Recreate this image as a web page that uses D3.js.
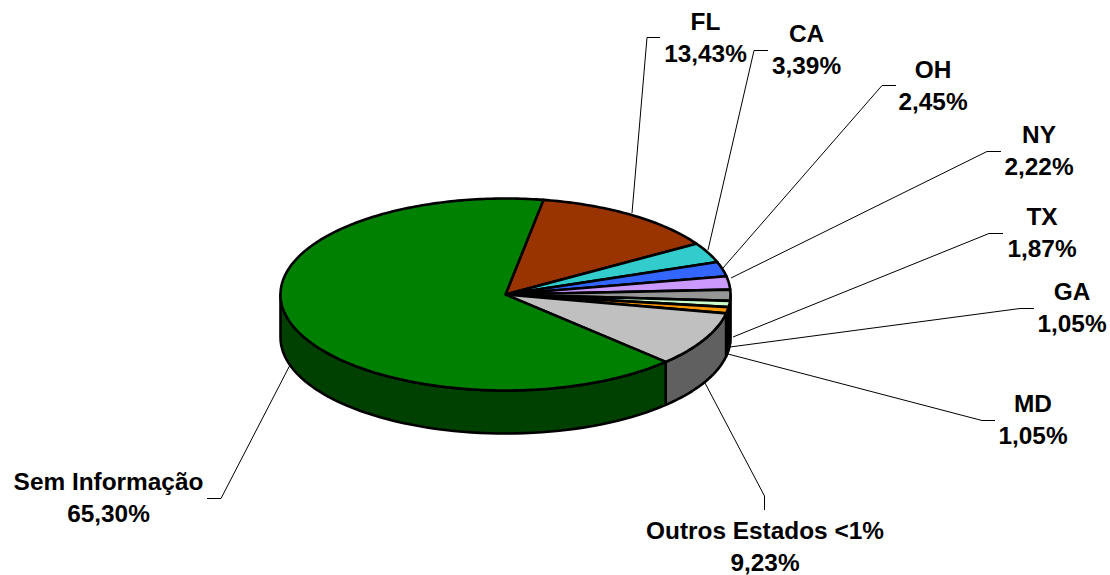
<!DOCTYPE html>
<html>
<head>
<meta charset="utf-8">
<script src="https://cdn.jsdelivr.net/npm/d3@7"></script>
<style>
  body { margin: 0; background: #fff; overflow: hidden; }
  text { font-family: "Liberation Sans", Arial, sans-serif; font-weight: bold; font-size: 24.4px; fill: #000; }
</style>
</head>
<body>
<div id="chart"></div>
<script>
var width = 1110, height = 575;

// Data, clockwise from the first slice
var estados = ["FL", "CA", "OH", "NY", "TX", "GA", "MD", "Outros Estados <1%", "Sem Informação"];
var valores = [13.43, 3.39, 2.45, 2.22, 1.87, 1.05, 1.05, 9.23, 65.30];
var rotulos = ["13,43%", "3,39%", "2,45%", "2,22%", "1,87%", "1,05%", "1,05%", "9,23%", "65,30%"];
var coresTopo = ["#993300", "#33cccc", "#3366ff", "#cc99ff", "#969696", "#ccffcc", "#ff9900", "#c0c0c0", "#008000"];
var coresLado = ["#4d1a00", "#1a6666", "#1a3380", "#664d80", "#4b4b4b", "#668066", "#804d00", "#606060", "#004000"];

// Label anchor (centre, first baseline) and leader line bend points
var rotuloX = [705.5, 806.5, 933, 1039, 1042, 1072, 1033, 765, 108.5];
var rotuloY = [29.5, 42, 77.5, 143, 225, 300, 411.5, 539, 490];
var lider = [
  [[660, 37.5], [647, 37.5], [632, 213]],
  [[768, 50.5], [754, 50.5], [708, 250]],
  [[896, 85.5], [882, 85.5], [723, 268]],
  [[1001, 151.5], [987, 151.5], [731, 278]],
  [[1003, 233.5], [989, 233.5], [733, 337]],
  [[1034, 308.5], [1020, 308.5], [730, 347]],
  [[995, 420.5], [982, 420.5], [728, 354]],
  [[764.5, 510], [764.5, 496], [705, 383]],
  [[207, 498.5], [221, 498.5], [290, 365]]
];

var cx = 505.5, cy = 294.5, rx = 225, ry = 96, depth = 43;
var startAngle = 9.7 * Math.PI / 180;

var svg = d3.select("#chart")
    .append("svg")
    .attr("width", width)
    .attr("height", height)
    .style("display", "block");

var pie = d3.pie()
    .sort(null)
    .startAngle(startAngle)
    .endAngle(startAngle + 2 * Math.PI);
var arcs = pie(valores);

function px(a) { return rx * Math.sin(a); }
function py(a) { return -ry * Math.cos(a); }

// Outer wall between two angles
function wallPath(a0, a1) {
  var pts = [];
  var n = 60, i, a;
  for (i = 0; i <= n; i++) {
    a = a0 + (a1 - a0) * i / n;
    pts.push([px(a), py(a)]);
  }
  for (i = n; i >= 0; i--) {
    a = a0 + (a1 - a0) * i / n;
    pts.push([px(a), py(a) + depth]);
  }
  return d3.line()(pts) + "Z";
}

function slicePath(d) {
  var pts = [[0, 0]];
  var n = Math.max(4, Math.ceil((d.endAngle - d.startAngle) * 60)), i, a;
  for (i = 0; i <= n; i++) {
    a = d.startAngle + (d.endAngle - d.startAngle) * i / n;
    pts.push([px(a), py(a)]);
  }
  return d3.line()(pts) + "Z";
}

// Leader lines sit behind the pie
svg.append("g").selectAll("path")
    .data(lider)
    .enter()
    .append("path")
    .attr("d", d3.line())
    .attr("fill", "none")
    .attr("stroke", "#000")
    .attr("stroke-width", 1);

var pieG = svg.append("g")
    .attr("transform", "translate(" + cx + "," + cy + ")");

// Walls: visible part is from 90deg to 270deg of the ellipse
var lados = [];
arcs.forEach(function(d, i) {
  var s = Math.max(d.startAngle, Math.PI / 2);
  var e = Math.min(d.endAngle, 3 * Math.PI / 2);
  if (e > s) lados.push({ s: s, e: e, i: i });
});

pieG.selectAll(".lado")
    .data(lados)
    .enter()
    .append("path")
    .attr("class", "lado")
    .attr("d", function(d) { return wallPath(d.s, d.e); })
    .attr("fill", function(d) { return coresLado[d.i]; })
    .attr("stroke", "#000")
    .attr("stroke-width", 2.6)
    .attr("stroke-linejoin", "round");

pieG.selectAll(".fatia")
    .data(arcs)
    .enter()
    .append("path")
    .attr("class", "fatia")
    .attr("d", slicePath)
    .attr("fill", function(d, i) { return coresTopo[i]; })
    .attr("stroke", "#000")
    .attr("stroke-width", 2.6)
    .attr("stroke-linejoin", "round");

// Labels
var rotulo = svg.selectAll(".rotulo")
    .data(estados)
    .enter()
    .append("text")
    .attr("class", "rotulo")
    .attr("text-anchor", "middle");

rotulo.append("tspan")
    .attr("x", function(d, i) { return rotuloX[i]; })
    .attr("y", function(d, i) { return rotuloY[i]; })
    .text(function(d) { return d; });

rotulo.append("tspan")
    .attr("x", function(d, i) { return rotuloX[i]; })
    .attr("y", function(d, i) { return rotuloY[i] + 32; })
    .text(function(d, i) { return rotulos[i]; });
</script>
</body>
</html>
